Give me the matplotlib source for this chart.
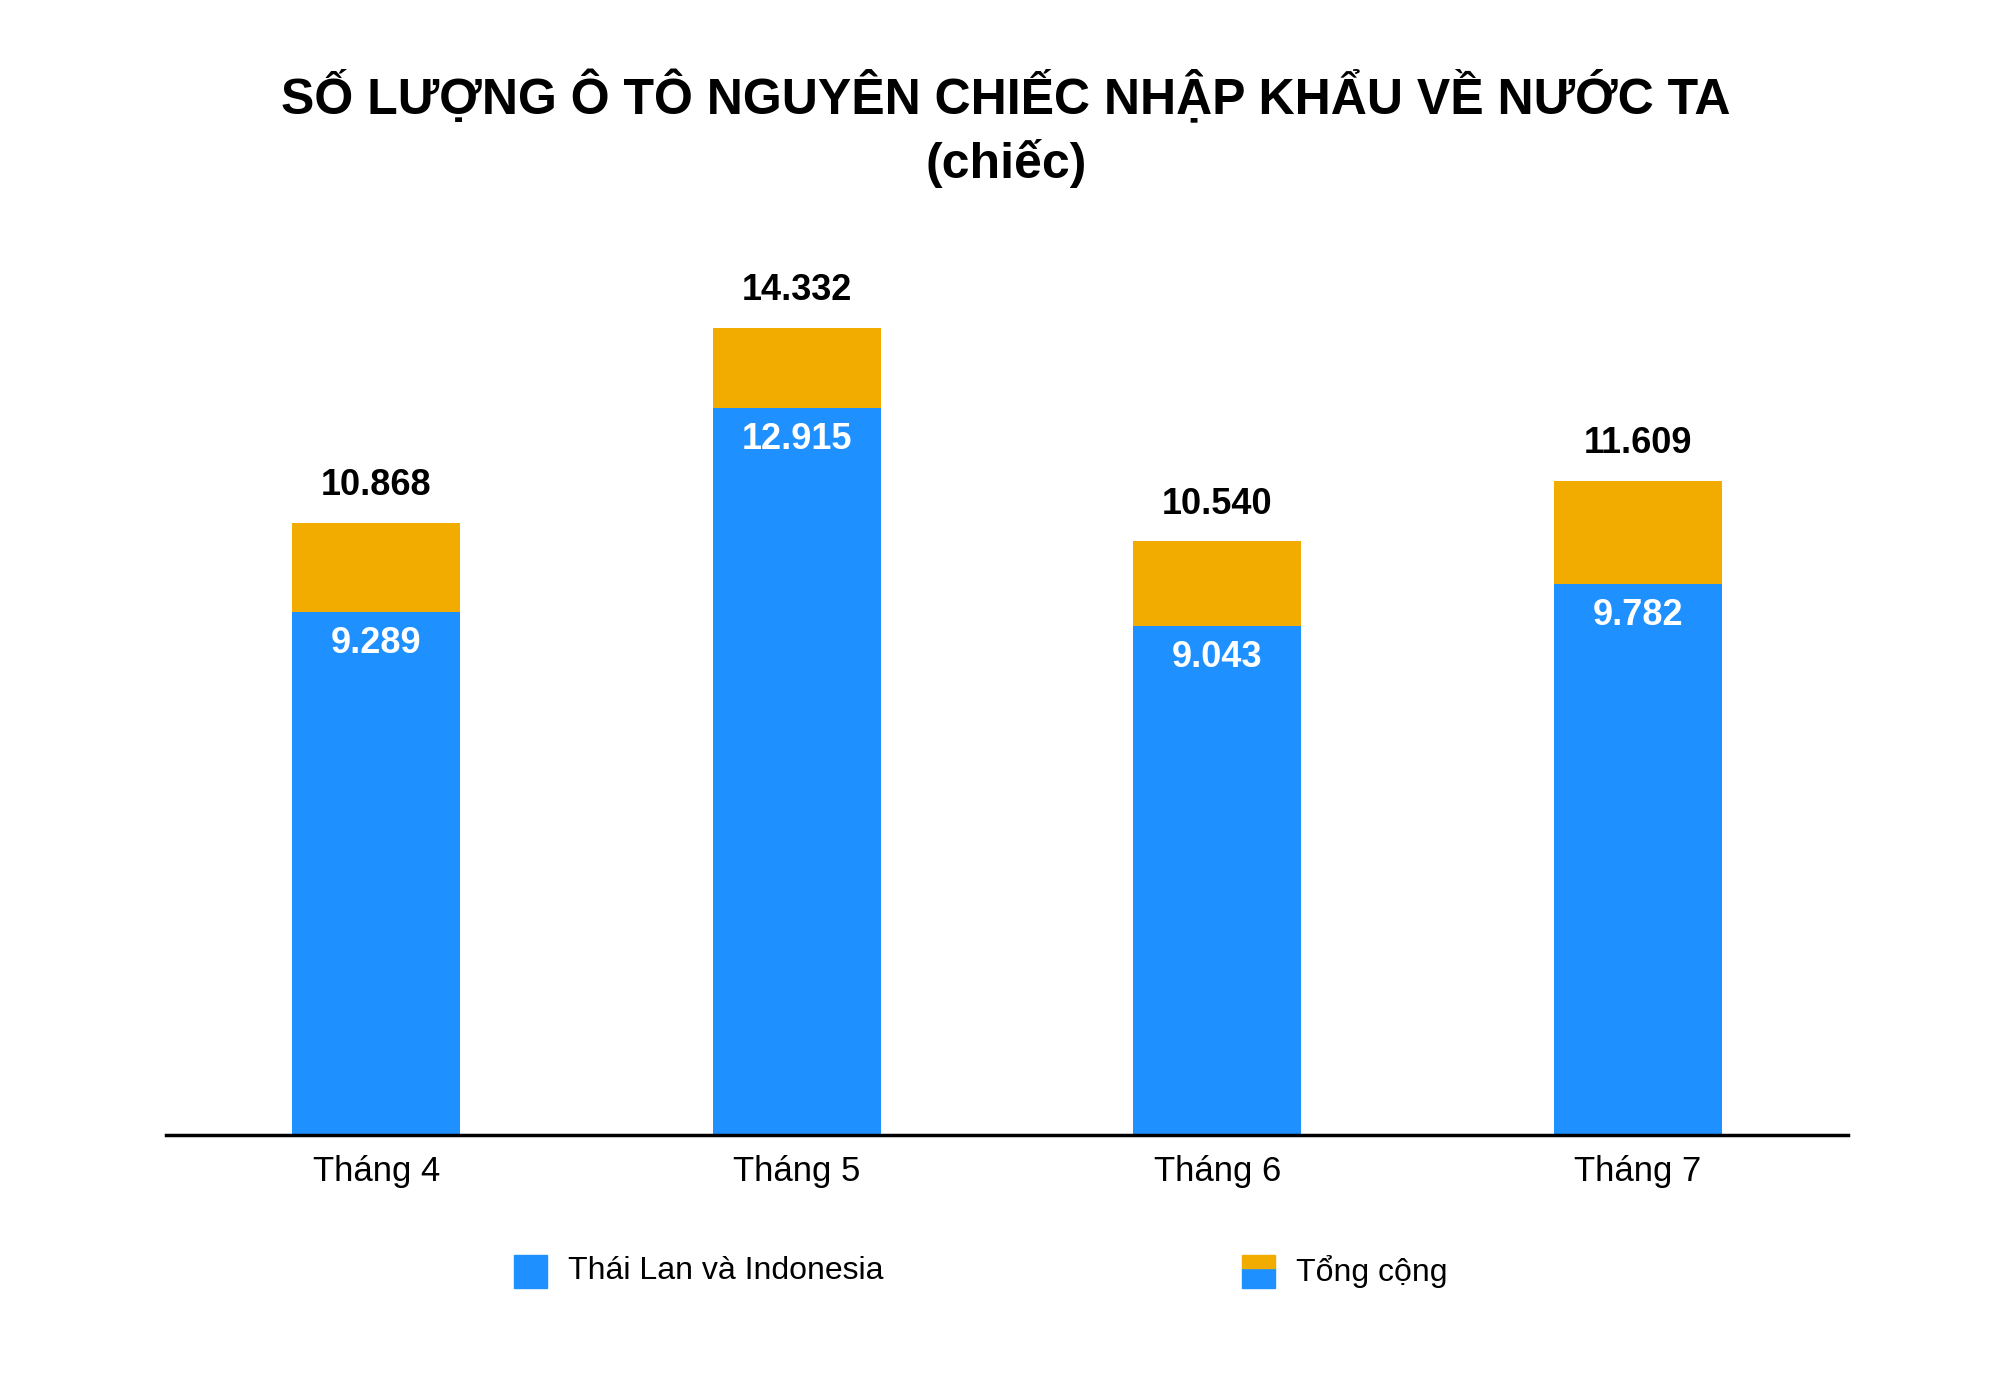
import matplotlib
matplotlib.use("Agg")
import matplotlib.pyplot as plt
from matplotlib.patches import Rectangle

categories = ["Tháng 4", "Tháng 5", "Tháng 6", "Tháng 7"]
thai_indo = [9289, 12915, 9043, 9782]
total = [10868, 14332, 10540, 11609]
legend_labels = ["Thái Lan và Indonesia", "Tổng cộng"]

BLUE = "#1E90FF"
ORANGE = "#F2AC00"
plt.rcParams['font.family'] = ['Liberation Sans', 'DejaVu Sans']

fig = plt.figure(figsize=(20, 13.88), dpi=100)
ax = fig.add_axes([0.083, 0.182, 0.841, 0.633])
x = list(range(len(categories)))
rest = [t - b for t, b in zip(total, thai_indo)]
ax.bar(x, thai_indo, width=0.4, color=BLUE)
ax.bar(x, rest, bottom=thai_indo, width=0.4, color=ORANGE)

def fmt(v):
    return f"{v:,}".replace(",", ".")

for xi, b, t in zip(x, thai_indo, total):
    ax.text(xi, t + 350, fmt(t), ha="center", va="bottom", fontsize=26, fontweight="bold", color="black")
    ax.text(xi, b - 250, fmt(b), ha="center", va="top", fontsize=26, fontweight="bold", color="white")

ax.set_xlim(-0.5, 3.5)
ax.set_ylim(0, 15590)
ax.set_xticks(x)
ax.set_xticklabels(categories, fontsize=25)
ax.tick_params(axis="x", length=0, pad=14)
ax.set_yticks([])
for s in ["top", "right", "left"]:
    ax.spines[s].set_visible(False)
ax.spines["bottom"].set_linewidth(2.5)

fig.text(0.503, 0.930, "SỐ LƯỢNG Ô TÔ NGUYÊN CHIẾC NHẬP KHẨU VỀ NƯỚC TA",
         ha="center", va="center", fontsize=36, fontweight="bold")
fig.text(0.503, 0.882, "(chiếc)", ha="center", va="center", fontsize=36, fontweight="bold")

# legend
W, H = 0.0165, 0.024
ly = 0.072
fig.patches.append(Rectangle((0.257, ly), W, H, transform=fig.transFigure, color=BLUE))
fig.text(0.284, ly + H / 2, legend_labels[0], va="center", fontsize=23)
fig.patches.append(Rectangle((0.621, ly), W, H * 0.6, transform=fig.transFigure, color=BLUE))
fig.patches.append(Rectangle((0.621, ly + H * 0.6), W, H * 0.4, transform=fig.transFigure, color=ORANGE))
fig.text(0.648, ly + H / 2, legend_labels[1], va="center", fontsize=23)

fig.savefig("out.png", dpi=100, facecolor="white")
